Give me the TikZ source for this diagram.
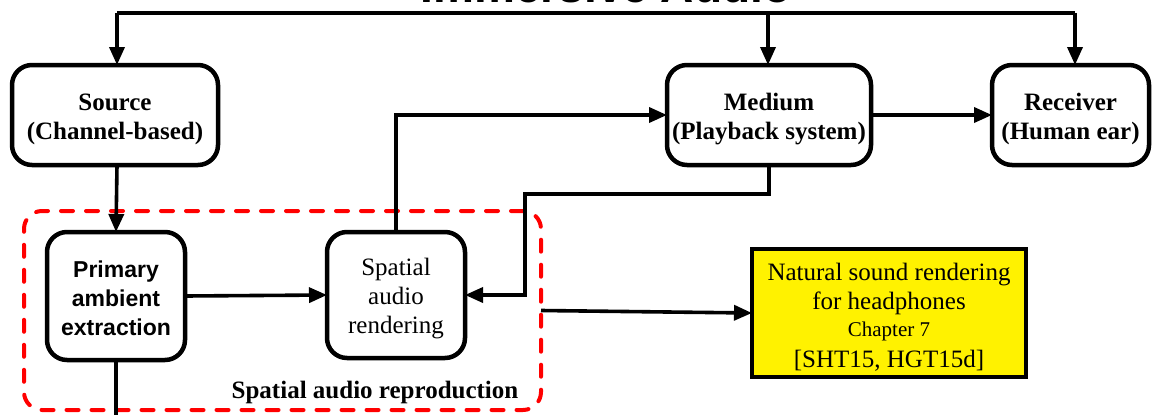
\documentclass[tikz,border=0pt]{standalone}
\usepackage{fontspec}
\setmainfont{Liberation Serif}
\newfontfamily\headsans{Liberation Sans}
\usetikzlibrary{arrows.meta}
% invisible strut that lowers a block's first line a little
\newcommand\leadstrut[1]{\rule{0pt}{#1}}

\begin{document}
\begin{tikzpicture}[x=1pt,y=-1pt,
  every node/.style={inner sep=0pt,outer sep=0pt},
  blockbox/.style={draw,line width=4.5pt,rounded corners=20pt,fill=white,align=center,
    font=\fontsize{25}{29}\selectfont},
  arr/.style={line width=3.6pt,-{Triangle[length=18pt,width=15pt]}},
  plainline/.style={line width=3.6pt},
  groupbox/.style={draw=red,line width=4pt,rounded corners=18pt,line cap=round,
    dash pattern=on 12pt off 13pt},
  notebox/.style={draw,line width=4.5pt,fill=yellow,align=center}]

\useasboundingbox (0,0) rectangle (1155,415);
\clip (0,0) rectangle (1155,415);

% heading, mostly above the page edge
\node[anchor=base,font=\headsans\bfseries\fontsize{46}{50}\selectfont] (title) at (606,2) {Immersive Audio};

% spatial audio reproduction group
\node[groupbox,minimum width=517pt,minimum height=199pt] (grp) at (282.5,310.5) {};
\node[anchor=base,font=\bfseries\fontsize{25}{29}\selectfont] (grplabel) at (375,398) {Spatial audio reproduction};

% main blocks
\node[blockbox,minimum width=206pt,minimum height=100pt,font=\bfseries\fontsize{25}{29}\selectfont]
  (src) at (115,115) {\leadstrut{25pt}Source\\(Channel-based)};
\node[blockbox,minimum width=204pt,minimum height=100pt,font=\bfseries\fontsize{25}{29}\selectfont]
  (med) at (769,115) {\leadstrut{25pt}Medium\\(Playback system)};
\node[blockbox,minimum width=157pt,minimum height=100pt,font=\bfseries\fontsize{25}{29}\selectfont]
  (rec) at (1070.5,115) {\leadstrut{25pt}Receiver\\(Human ear)};
\node[blockbox,minimum width=138pt,minimum height=128pt,font=\headsans\bfseries\fontsize{23}{29}\selectfont]
  (pae) at (116,296) {\leadstrut{21pt}Primary\\ambient\\extraction};
\node[blockbox,minimum width=138pt,minimum height=126pt]
  (sar) at (396,295) {\leadstrut{25pt}Spatial\\audio\\rendering};

% headphone rendering note
\node[notebox,minimum width=274pt,minimum height=128pt,font=\fontsize{25}{29}\selectfont]
  (nat) at (889,313) {\leadstrut{26pt}Natural sound rendering\\for headphones\\[-2pt]{\fontsize{21}{27}\selectfont Chapter 7}\\[2pt]{[SHT15, HGT15d]}};

% distribution bar from the heading
\coordinate (barL) at (117,13);
\coordinate (barM) at (768,13);
\coordinate (barR) at (1075,13);
\draw[line width=4.5pt] (barL) -- (barR);
\draw[arr] (barL) -- (barL |- src.north);
\draw[arr] (barM) -- (barM |- med.north);
\draw[arr] (barR) -- (barR |- rec.north);

% signal flow
\draw[arr] (src.south -| barL) -- (pae.north);
\draw[arr] (pae.east) -- (sar.west);
\draw[arr] (sar.north) |- (med.west);
\draw[arr] (med.east) -- (rec.west);
\coordinate (back) at (525,194);
\draw[arr] (med.south) |- (back) |- (sar.east);
\coordinate (paeout) at (116,415);
\draw[plainline] (pae.south) -- (paeout);
\draw[arr] (grp.east) -- (nat.west);

\end{tikzpicture}
\end{document}
